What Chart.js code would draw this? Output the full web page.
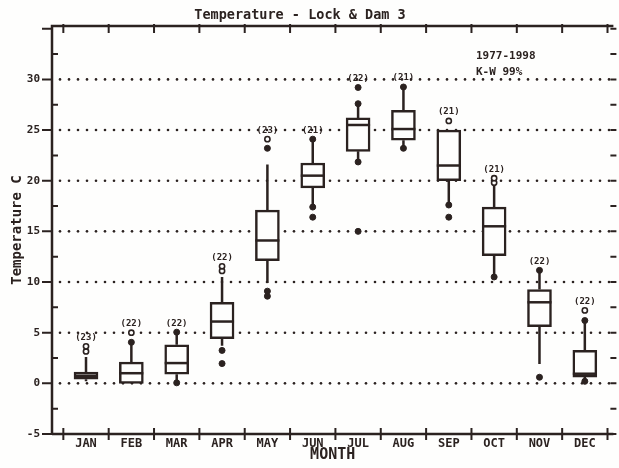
<!DOCTYPE html>
<html>
<head>
<meta charset="utf-8">
<title>Temperature - Lock & Dam 3</title>
<script src="https://cdn.jsdelivr.net/npm/chart.js@4.4.1/dist/chart.umd.min.js"></script>
<style>
  html, body { margin: 0; padding: 0; background: #fefefd; }
  #wrap { width: 619px; height: 468px; position: relative; }
</style>
</head>
<body>
<div id="wrap"><canvas id="tempbox"></canvas></div>
<script>
// monthly water temperature, 1977-1998
var months = ['JAN', 'FEB', 'MAR', 'APR', 'MAY', 'JUN', 'JUL', 'AUG', 'SEP', 'OCT', 'NOV', 'DEC'];
var counts = [23, 22, 22, 22, 23, 21, 22, 21, 21, 21, 22, 22];
var whiskerLow  = [0.2, 0.0, 0.05, 3.7, 9.9, 17.4, 21.85, 23.2, 17.6, 10.5, 1.9, 0.3];
var q1          = [0.4, 0.0, 0.9, 4.4, 12.1, 19.3, 22.9, 24.0, 20.0, 12.6, 5.6, 0.62];
var median      = [0.75, 1.0, 2.0, 6.1, 14.1, 20.5, 25.5, 25.1, 21.5, 15.5, 8.0, 0.95];
var q3          = [1.1, 2.1, 3.8, 8.0, 17.1, 21.75, 26.2, 26.95, 25.0, 17.4, 9.25, 3.26];
var whiskerHigh = [2.6, 4.0, 5.05, 10.5, 21.6, 24.1, 27.6, 29.25, 25.0, 19.5, 11.15, 6.2];
// solid dots and open circles beyond the box, per month
var dots = [[], [4.05], [5.05, 0.05], [3.25, 1.95], [23.2, 9.1, 8.6], [24.1, 17.4, 16.4],
            [27.6, 29.2, 21.85, 15.0], [29.25, 23.2], [17.6, 16.4], [10.5], [11.15, 0.6], [6.2, 0.2]];
var rings = [[3.15, 3.65], [5.0], [], [11.1, 11.55], [24.1], [], [], [], [25.9], [19.8, 20.25], [], [7.2]];
var yTicks = [-5, 0, 5, 10, 15, 20, 25, 30];

var ink = '#2b2220';
var mono = '"DejaVu Sans Mono", monospace';

function flatten(list) {
  var out = [];
  list.forEach(function (vals, i) {
    vals.forEach(function (v) { out.push({ x: i + 1, y: v }); });
  });
  return out;
}

var boxes = months.map(function (m, i) { return { x: i + 1, y: [q1[i], q3[i]] }; });

var boxFrame = {
  id: 'boxFrame',
  beforeDatasetsDraw: function (chart) {
    var ctx = chart.ctx, x = chart.scales.x, y = chart.scales.y, a = chart.chartArea;
    ctx.save();
    // dotted rows
    ctx.fillStyle = ink;
    yTicks.forEach(function (v) {
      if (v <= y.min) return;
      var py = y.getPixelForValue(v);
      for (var px = a.left + 8; px < a.right; px += 9) {
        ctx.beginPath();
        ctx.arc(px, py, 1.3, 0, Math.PI * 2);
        ctx.fill();
      }
    });
    // whiskers
    ctx.strokeStyle = ink;
    ctx.lineWidth = 2.5;
    months.forEach(function (m, i) {
      var px = x.getPixelForValue(i + 1);
      ctx.beginPath();
      ctx.moveTo(px, y.getPixelForValue(q3[i]));
      ctx.lineTo(px, y.getPixelForValue(whiskerHigh[i]));
      ctx.moveTo(px, y.getPixelForValue(q1[i]));
      ctx.lineTo(px, y.getPixelForValue(whiskerLow[i]));
      ctx.stroke();
    });
    ctx.restore();
  },
  afterDatasetsDraw: function (chart) {
    var ctx = chart.ctx, x = chart.scales.x, y = chart.scales.y, a = chart.chartArea;
    ctx.save();
    ctx.strokeStyle = ink;
    ctx.fillStyle = ink;

    // medians
    ctx.lineWidth = 2.5;
    months.forEach(function (m, i) {
      var px = x.getPixelForValue(i + 1), py = y.getPixelForValue(median[i]);
      ctx.beginPath();
      ctx.moveTo(px - 12, py);
      ctx.lineTo(px + 12, py);
      ctx.stroke();
    });

    // frame
    ctx.lineWidth = 2.5;
    ctx.beginPath();
    ctx.moveTo(a.left, a.bottom);
    ctx.lineTo(a.left, a.top);
    ctx.lineTo(a.right, a.top);
    ctx.moveTo(a.left, a.bottom);
    ctx.lineTo(a.right, a.bottom);
    ctx.stroke();

    // month boundary ticks, top and bottom
    ctx.lineWidth = 2;
    for (var k = 0; k <= months.length; k++) {
      var tx = x.getPixelForValue(k + 0.5);
      ctx.beginPath();
      ctx.moveTo(tx, a.top - 2);
      ctx.lineTo(tx, a.top + 7);
      ctx.moveTo(tx, a.bottom - 6);
      ctx.lineTo(tx, a.bottom + 6);
      ctx.stroke();
    }

    // y ticks: majors outside left, minors inside, all on the right
    for (var v = -5; v <= 35; v += 2.5) {
      var ty = y.getPixelForValue(v);
      if (ty < a.top - 1) continue;
      ctx.beginPath();
      if (v % 5 === 0) {
        ctx.moveTo(a.left - 10, ty);
        ctx.lineTo(a.left, ty);
      } else {
        ctx.moveTo(a.left, ty);
        ctx.lineTo(a.left + 6, ty);
      }
      ctx.moveTo(a.right - 3, ty);
      ctx.lineTo(a.right + 3, ty);
      ctx.stroke();
    }

    // sample counts above each month
    ctx.font = 'bold 9px ' + mono;
    ctx.textAlign = 'center';
    ctx.textBaseline = 'middle';
    months.forEach(function (m, i) {
      var top = Math.max.apply(null, [whiskerHigh[i], q3[i]].concat(dots[i], rings[i]));
      ctx.fillText('(' + counts[i] + ')', x.getPixelForValue(i + 1), y.getPixelForValue(top) - 9);
    });

    // title and notes
    ctx.font = 'bold 13.5px ' + mono;
    ctx.fillText('Temperature - Lock & Dam 3', 300, 15);
    ctx.font = 'bold 11px ' + mono;
    ctx.textAlign = 'left';
    ctx.fillText('1977-1998', 476, 56);
    ctx.fillText('K-W 99%', 476, 72);
    ctx.restore();
  }
};

new Chart(document.getElementById('tempbox'), {
  type: 'bar',
  data: {
    datasets: [
      {
        type: 'scatter',
        data: flatten(dots),
        pointRadius: 3,
        pointBackgroundColor: ink,
        pointBorderColor: ink,
        pointBorderWidth: 1,
        order: 1
      },
      {
        type: 'scatter',
        data: flatten(rings),
        pointRadius: 2.6,
        pointBackgroundColor: '#fefefd',
        pointBorderColor: ink,
        pointBorderWidth: 1.6,
        order: 1
      },
      {
        type: 'bar',
        data: boxes,
        backgroundColor: '#fefefd',
        borderColor: ink,
        borderWidth: 2.5,
        borderSkipped: false,
        barThickness: 24,
        order: 3
      }
    ]
  },
  options: {
    responsive: true,
    maintainAspectRatio: false,
    animation: false,
    events: [],
    layout: { padding: { top: 26, right: 3, left: 0, bottom: 0 } },
    plugins: {
      legend: { display: false },
      tooltip: { enabled: false },
      title: { display: false }
    },
    scales: {
      x: {
        type: 'linear',
        min: 0.25,
        max: 12.63,
        offset: false,
        grid: { display: false, drawTicks: false, offset: false },
        border: { display: false },
        afterBuildTicks: function (scale) {
          scale.ticks = months.map(function (m, i) { return { value: i + 1 }; });
        },
        afterFit: function (scale) { scale.height = 34; },
        ticks: {
          autoSkip: false,
          maxRotation: 0,
          padding: 3,
          color: ink,
          font: { family: mono, size: 12, weight: 'bold' },
          callback: function (v) { return months[v - 1] || ''; }
        },
        title: {
          display: true,
          text: 'MONTH',
          color: ink,
          padding: { top: 0, bottom: 4 },
          font: { family: mono, size: 15, weight: 'bold' }
        }
      },
      y: {
        min: -5,
        max: 35.27,
        grid: { display: false, drawTicks: false },
        border: { display: false },
        afterBuildTicks: function (scale) {
          scale.ticks = yTicks.map(function (v) { return { value: v }; });
        },
        afterFit: function (scale) { scale.width = 52; },
        ticks: {
          padding: 12,
          color: ink,
          font: { family: mono, size: 11, weight: 'bold' }
        },
        title: {
          display: true,
          text: 'Temperature C',
          color: ink,
          padding: { top: 9, bottom: 0 },
          font: { family: mono, size: 14, weight: 'bold' }
        }
      }
    }
  },
  plugins: [boxFrame]
});
</script>
</body>
</html>
